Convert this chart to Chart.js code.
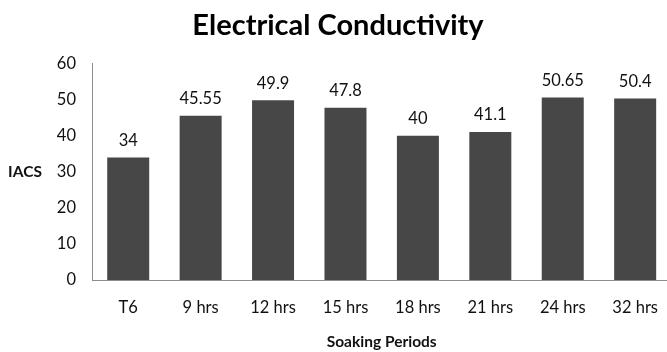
<!DOCTYPE html>
<html>
<head>
<meta charset="utf-8">
<script src="https://cdn.jsdelivr.net/npm/chart.js@4"></script>
<style>
  html, body { margin: 0; padding: 0; background: #fff; overflow: hidden; }
  #wrap { width: 676px; height: 352px; }
</style>
</head>
<body>
<div id="wrap"><canvas id="chart" width="676" height="352"></canvas></div>
<script>
// values
const periods = ['T6', '9 hrs', '12 hrs', '15 hrs', '18 hrs', '21 hrs', '24 hrs', '32 hrs'];
const conductivity = [34, 45.55, 49.9, 47.8, 40, 41.1, 50.65, 50.4];
const yTicks = [0, 10, 20, 30, 40, 50, 60];

const FONT = 'Lato';

// labels over bars plus the two axis titles (the y one is not rotated)
const extraText = {
    id: 'extraText',
    afterDatasetsDraw(chart) {
        const ctx = chart.ctx;
        const area = chart.chartArea;
        ctx.save();
        ctx.fillStyle = '#111';
        ctx.textAlign = 'center';
        ctx.textBaseline = 'middle';
        ctx.font = '16.5px ' + FONT;
        chart.getDatasetMeta(0).data.forEach(function(bar, i) {
            ctx.fillText(String(conductivity[i]), bar.x, bar.y - 17);
        });
        ctx.font = 'bold 15.5px ' + FONT;
        ctx.fillText('IACS', 25, (area.top + area.bottom) / 2);
        ctx.fillText('Soaking Periods', (area.left + area.right) / 2, 342);
        ctx.restore();
    }
};

const ctx = document.getElementById('chart').getContext('2d');
const chart = new Chart(ctx, {
    type: 'bar',
    data: {
        labels: periods,
        datasets: [{
            label: 'IACS',
            data: conductivity,
            backgroundColor: '#474747',
            borderWidth: 0,
            barPercentage: 0.58,
            categoryPercentage: 1.0
        }]
    },
    options: {
        responsive: false,
        animation: false,
        layout: {
            padding: { left: 0, right: 0, top: 0, bottom: 0 }
        },
        scales: {
            x: {
                grid: { display: false, drawTicks: false },
                border: { display: true, color: '#8c8c8c', width: 1 },
                ticks: {
                    color: '#111',
                    padding: 18,
                    font: { size: 16.5, family: FONT }
                },
                afterFit: function(scale) { scale.height = 72; }
            },
            y: {
                min: 0,
                max: 60,
                grid: { display: false, drawTicks: false },
                border: { display: true, color: '#8c8c8c', width: 1 },
                afterBuildTicks: function(scale) {
                    scale.ticks = yTicks.map(v => ({ value: v }));
                },
                ticks: {
                    color: '#111',
                    padding: 16,
                    font: { size: 16.5, family: FONT }
                },
                afterFit: function(scale) { scale.width = 92; }
            }
        },
        plugins: {
            legend: { display: false },
            tooltip: { enabled: false },
            title: {
                display: true,
                text: 'Electrical Conductivity',
                color: '#000',
                font: { size: 29, weight: 'bold', family: FONT },
                padding: { top: 8, bottom: 21 }
            }
        }
    },
    plugins: [extraText]
});
</script>
</body>
</html>
